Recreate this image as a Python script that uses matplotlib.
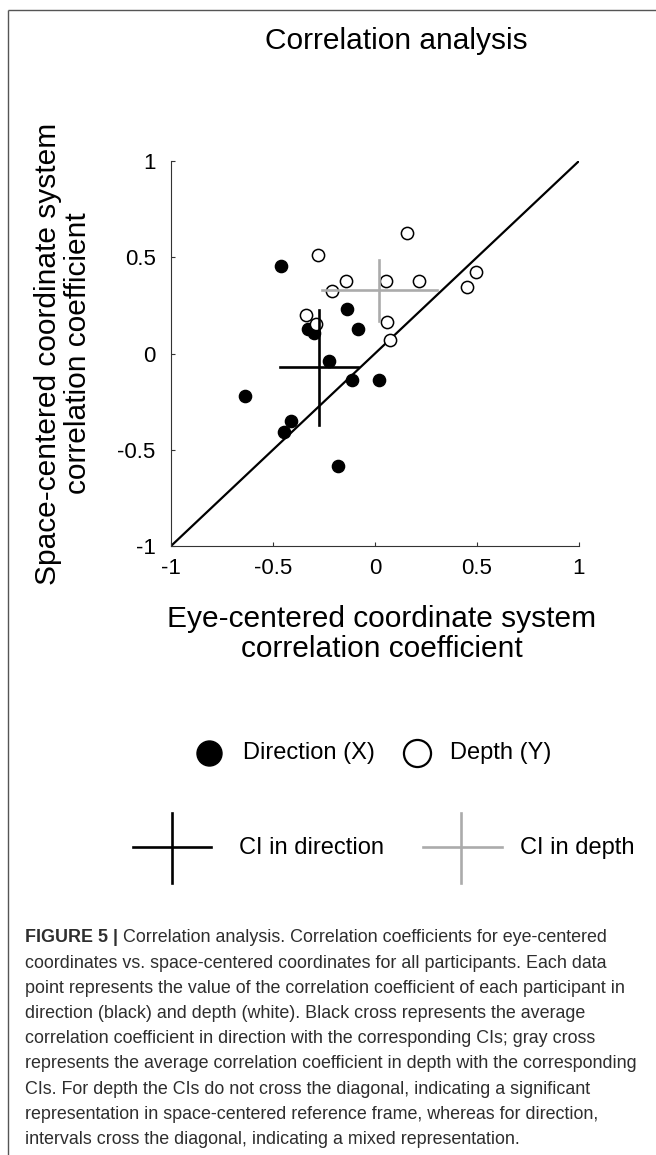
import numpy as np
import matplotlib
matplotlib.use("Agg")
from matplotlib import pyplot as plt

plt.rcParams['font.family'] = ['Liberation Sans', 'DejaVu Sans']
plt.rcParams['axes.unicode_minus'] = False

# 参加者ごとの相関係数 (方向 = 黒丸, 奥行き = 白丸)
dir_eye = [-0.462, -0.139, -0.327, -0.298, -0.082, -0.225, -0.114, 0.020, -0.637, -0.412, -0.446, -0.180]
dir_space = [0.457, 0.232, 0.125, 0.106, 0.128, -0.040, -0.137, -0.137, -0.222, -0.351, -0.409, -0.587]
depth_eye = [-0.278, 0.155, -0.142, -0.212, 0.052, 0.217, -0.340, -0.291, 0.057, 0.074, 0.451, 0.495]
depth_space = [0.513, 0.627, 0.379, 0.324, 0.379, 0.379, 0.201, 0.151, 0.163, 0.068, 0.348, 0.421]

# 平均と信頼区間
dir_mean = (-0.275, -0.071)
dir_ci_x = (-0.466, -0.082)
dir_ci_y = (-0.369, 0.227)
depth_mean = (0.020, 0.332)
depth_ci_x = (-0.261, 0.302)
depth_ci_y = (0.171, 0.488)

ticks = [-1, -0.5, 0, 0.5, 1]
tick_labels = ['-1', '-0.5', '0', '0.5', '1']

legend_labels = ['Direction (X)', 'Depth (Y)', 'CI in direction', 'CI in depth']

caption_bold = 'FIGURE 5 |'
caption_lines = [
    ' Correlation analysis. Correlation coefficients for eye-centered',
    'coordinates vs. space-centered coordinates for all participants. Each data',
    'point represents the value of the correlation coefficient of each participant in',
    'direction (black) and depth (white). Black cross represents the average',
    'correlation coefficient in direction with the corresponding CIs; gray cross',
    'represents the average correlation coefficient in depth with the corresponding',
    'CIs. For depth the CIs do not cross the diagonal, indicating a significant',
    'representation in space-centered reference frame, whereas for direction,',
    'intervals cross the diagonal, indicating a mixed representation.',
]

W, H = 656, 1155
gray = '#ababab'
fig = plt.figure(figsize=(W / 100, H / 100), dpi=100)

# 全体に重ねるピクセル座標の軸 (枠線・凡例・キャプション用)
ov = fig.add_axes([0, 0, 1, 1])
ov.set_xlim(0, W)
ov.set_ylim(H, 0)
ov.axis('off')

# 散布図
ax = fig.add_axes([171 / W, 1 - 546 / H, 408 / W, 385 / H])
ax.plot([-1, 1], [-1, 1], color='k', lw=1.6)
ax.plot(dir_eye, dir_space, 'o', ms=8.8, color='k', mec='k', ls='none', zorder=3)
ax.plot(depth_eye, depth_space, 'o', ms=8.8, mfc='white', mec='k', mew=1.1, ls='none', zorder=3)

ax.plot(dir_ci_x, [dir_mean[1]] * 2, color='k', lw=1.9, zorder=4)
ax.plot([dir_mean[0]] * 2, dir_ci_y, color='k', lw=1.9, zorder=4)
ax.plot(depth_ci_x, [depth_mean[1]] * 2, color=gray, lw=1.9, zorder=4)
ax.plot([depth_mean[0]] * 2, depth_ci_y, color=gray, lw=1.9, zorder=4)

ax.set_xlim(-1, 1)
ax.set_ylim(-1, 1)
ax.set_xticks(ticks)
ax.set_xticklabels(tick_labels)
ax.set_yticks(ticks)
ax.set_yticklabels(tick_labels)
for side in ['top', 'right']:
    ax.spines[side].set_visible(False)
for side in ['left', 'bottom']:
    ax.spines[side].set_color('#333333')
    ax.spines[side].set_linewidth(0.8)
ax.tick_params(axis='both', direction='in', length=3, width=0.8, color='#333333', labelsize=16)
ax.tick_params(axis='x', pad=8.5)
ax.tick_params(axis='y', pad=11)
ax.patch.set_alpha(0)

ax.set_xlabel('Eye-centered coordinate system\ncorrelation coefficient', fontsize=21.5, linespacing=1.05)
ax.xaxis.set_label_coords((382 - 171) / 408, (546 - 634) / 385)
ax.xaxis.label.set_va('center')
ax.set_ylabel('Space-centered coordinate system\ncorrelation coefficient', fontsize=21.5, linespacing=1.05)
ax.yaxis.set_label_coords((63 - 171) / 408, 0.5)
ax.yaxis.label.set_va('center')

fig.text(396 / W, 1 - 41 / H, 'Correlation analysis', fontsize=21.5, ha='center', va='center')

# 枠線 (上と左のみ見えている)
ov.plot([8, W], [9.5, 9.5], color='#555555', lw=1.0, solid_capstyle='butt')
ov.plot([8, 8], [9.5, H], color='#555555', lw=1.0, solid_capstyle='butt')

# 凡例 1
ov.plot([209], [753], 'o', ms=18, color='k')
ov.plot([417], [753], 'o', ms=19.5, mfc='white', mec='k', mew=1.6)
ov.text(243, 753, legend_labels[0], fontsize=17, va='center', ha='left')
ov.text(450, 753, legend_labels[1], fontsize=17, va='center', ha='left')

# 凡例 2 (十字)
ov.plot([133, 211], [847, 847], color='k', lw=1.9)
ov.plot([172, 172], [813, 883], color='k', lw=1.9)
ov.plot([423, 502], [847, 847], color=gray, lw=1.9)
ov.plot([461, 461], [813, 883], color=gray, lw=1.9)
ov.text(239, 848, legend_labels[2], fontsize=17, va='center', ha='left')
ov.text(520, 848, legend_labels[3], fontsize=17, va='center', ha='left')

# キャプション
cap_color = '#2e2e2e'
cap_size = 12.85
y0 = 938
dy = 25.2
t = ov.text(25, y0, caption_bold, fontsize=cap_size, fontweight='bold', color=cap_color, va='center', ha='left')
ov.annotate(caption_lines[0], xy=(1, 0), xycoords=t, va='bottom', ha='left', fontsize=cap_size, color=cap_color)
for i, line in enumerate(caption_lines[1:], start=1):
    ov.text(25, y0 + dy * i, line, fontsize=cap_size, color=cap_color, va='center', ha='left')

fig.savefig('out.png', dpi=100)
plt.close(fig)
